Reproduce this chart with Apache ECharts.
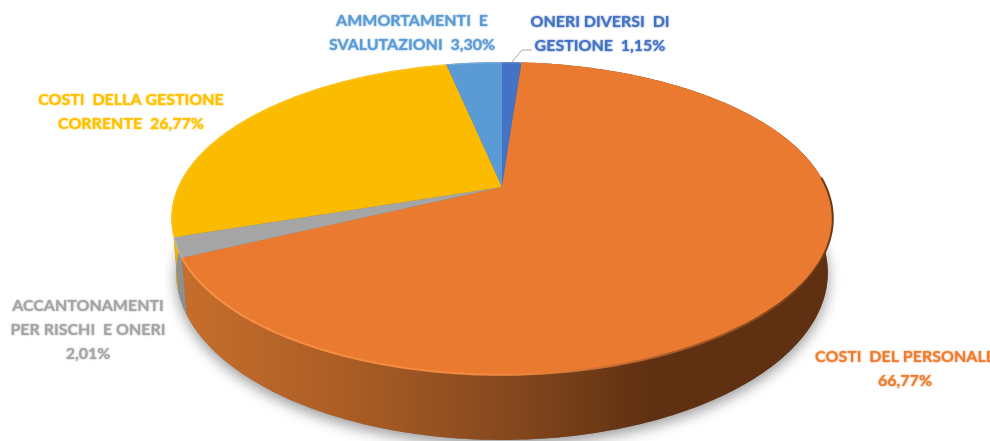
<!DOCTYPE html>
<html>
<head>
<meta charset="utf-8">
<style>html,body{margin:0;padding:0;background:#fff}#main{width:990px;height:441px}</style>
<script src="https://cdn.jsdelivr.net/npm/echarts@6/dist/echarts.min.js"></script>
</head>
<body>
<div id="main"></div>
<script>
// dati
var categories = ['ONERI DIVERSI  DI\nGESTIONE', 'COSTI  DEL PERSONALE', 'ACCANTONAMENTI\nPER RISCHI  E ONERI', 'COSTI  DELLA GESTIONE\nCORRENTE', 'AMMORTAMENTI  E\nSVALUTAZIONI'];
var values = [1.15, 66.77, 2.01, 26.77, 3.30];
var separators = ['  ', '\n', '\n', '  ', '  '];

// colori e posizione delle etichette
var topColors = ['#4472c4', '#ea7a30', '#a5a5a5', '#fbbc00', '#5b9bd5'];
var wallColors = ['#2f5597', '#c06a2b', '#8f8f8f', '#eeb000', '#41719c'];
var labelColors = ['#4472c4', '#ed7d31', '#a5a5a5', '#ffc000', '#5b9bd5'];
var labelPos = [[600, 34], [905, 369], [88, 330], [131, 112], [412, 33]];

// torta prospettica: centro, raggi, prospettiva, spessore
var cx = 502, cy = 187, ax = 324, by = 150, k = 0.2013, depth = 52, shrink = 0.985;
// il bordo in rilievo della fetta arancione parte dal lato destro
var bevelStart = 24;

var total = values.reduce(function (a, b) { return a + b; }, 0);

function topPoint(pct) {
    var t = pct / total * Math.PI * 2;
    var X = Math.sin(t), Y = -Math.cos(t);
    var w = 1 - k * Y;
    return [cx + ax * X / w, cy + by * Y / w, w];
}
function bottomPoint(pct) {
    var p = topPoint(pct);
    return [cx + (p[0] - cx) * shrink, p[1] + depth / p[2]];
}
function arc(fn, from, to) {
    var pts = [], n = Math.max(2, Math.ceil((to - from) / 0.25));
    for (var i = 0; i <= n; i++) {
        pts.push(fn(from + (to - from) * i / n).slice(0, 2));
    }
    return pts;
}
function grad(stops) {
    return new echarts.graphic.LinearGradient(185, 0, 833, 0, stops, true);
}

var myChart = echarts.init(document.getElementById('main'));

var option = {
    backgroundColor: '#fff',
    animation: false,
    series: [
        {
            // ombra sotto la torta
            type: 'custom',
            coordinateSystem: 'none',
            silent: true,
            z: 1,
            data: [total],
            renderItem: function (params, api) {
                return {
                    type: 'polygon',
                    shape: { points: arc(bottomPoint, 0, api.value(0)) },
                    style: {
                        fill: '#777',
                        shadowBlur: 14,
                        shadowOffsetY: 5,
                        shadowColor: 'rgba(0,0,0,0.4)'
                    }
                };
            }
        },
        {
            type: 'custom',
            coordinateSystem: 'none',
            z: 2,
            data: values,
            renderItem: function (params, api) {
                var i = params.dataIndex;
                var start = 0;
                for (var j = 0; j < i; j++) start += values[j];
                var end = start + api.value(0);

                var rim = arc(topPoint, start, end);
                var wall = rim.concat(arc(bottomPoint, start, end).reverse());
                var wallFill = wallColors[i];
                var bevel = rim;
                var rimColor = 'rgba(255,255,255,0.15)';
                var rimWidth = 2.5;
                if (i === 1) {
                    wallFill = grad([
                        { offset: 0, color: '#c66d2b' },
                        { offset: 0.25, color: '#ab5d25' },
                        { offset: 0.5, color: '#85481e' },
                        { offset: 0.72, color: '#5f3011' },
                        { offset: 1, color: '#5f3011' }
                    ]);
                    rimColor = grad([
                        { offset: 0, color: '#f79045' },
                        { offset: 0.5, color: '#f28a3f' },
                        { offset: 0.72, color: '#b5622a' },
                        { offset: 1, color: '#6a3814' }
                    ]);
                    bevel = arc(topPoint, bevelStart, end);
                    rimWidth = 2;
                }

                var children = [
                    { type: 'polygon', z2: 1, shape: { points: wall }, style: { fill: wallFill } },
                    { type: 'polygon', z2: 10, shape: { points: [[cx, cy]].concat(rim) }, style: { fill: topColors[i] } },
                    { type: 'polyline', z2: 11, shape: { points: bevel }, style: { fill: 'none', stroke: rimColor, lineWidth: rimWidth } },
                    {
                        type: 'text',
                        z2: 20,
                        style: {
                            x: labelPos[i][0],
                            y: labelPos[i][1],
                            text: categories[i] + separators[i] + api.value(0).toFixed(2).replace('.', ',') + '%',
                            fill: labelColors[i],
                            fontFamily: 'Lato',
                            fontWeight: 'bold',
                            fontSize: 16,
                            lineHeight: 24,
                            align: 'center',
                            verticalAlign: 'middle',
                            textShadowBlur: 2,
                            textShadowColor: labelColors[i]
                        }
                    }
                ];
                // linea guida della fetta piu piccola
                if (i === 0) {
                    children.push({
                        type: 'polyline',
                        z2: 12,
                        shape: { points: [[512, 62], [522, 50], [532, 50]] },
                        style: { fill: 'none', stroke: '#a6a6a6', lineWidth: 1 }
                    });
                }
                return { type: 'group', children: children };
            }
        }
    ]
};
myChart.setOption(option);
</script>
</body>
</html>
